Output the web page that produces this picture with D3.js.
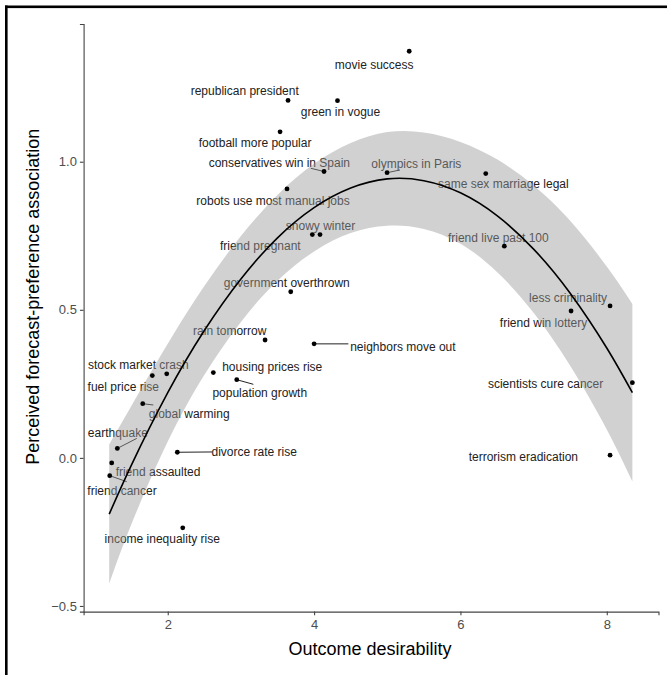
<!DOCTYPE html>
<html>
<head>
<meta charset="utf-8">
<script src="https://cdn.jsdelivr.net/npm/d3@7"></script>
<style>
  html, body { margin: 0; padding: 0; background: #fff; }
  svg { display: block; font-family: "Liberation Sans", Arial, sans-serif; }
</style>
</head>
<body>
<svg id="chart" width="667" height="675"></svg>
<script>
// ---------- data ----------
const events = [
  "movie success", "republican president", "green in vogue", "football more popular",
  "conservatives win in Spain", "olympics in Paris", "same sex marriage legal",
  "robots use most manual jobs", "snowy winter", "friend pregnant", "friend live past 100",
  "government overthrown", "less criminality", "friend win lottery", "rain tomorrow",
  "neighbors move out", "stock market crash", "fuel price rise", "housing prices rise",
  "population growth", "scientists cure cancer", "global warming", "earthquake",
  "divorce rate rise", "terrorism eradication", "friend assaulted", "friend cancer",
  "income inequality rise"
];
const desirability = [
  5.30, 3.644, 4.32, 3.535, 4.136, 4.997, 6.346, 3.63, 4.081, 3.976, 6.60,
  3.681, 8.045, 7.512, 3.33, 4.0, 1.986, 1.789, 2.623, 2.943, 8.35, 1.658,
  1.311, 2.131, 8.045, 1.234, 1.207, 2.205
];
const association = [
  1.373, 1.207, 1.206, 1.101, 0.967, 0.963, 0.96, 0.908, 0.754, 0.754, 0.715,
  0.561, 0.513, 0.496, 0.398, 0.385, 0.284, 0.278, 0.288, 0.264, 0.254, 0.183,
  0.032, 0.019, 0.009, -0.017, -0.060, -0.236
];

// fitted curve and its confidence band
const fitX  = [1.2, 1.5, 2.0, 2.5, 3.0, 3.5, 4.0, 4.5, 5.0, 5.5, 6.0, 6.5, 7.0, 7.5, 8.0, 8.35];
const fitY  = [-0.190, -0.026, 0.220, 0.430, 0.604, 0.743, 0.845, 0.911, 0.942, 0.936, 0.895, 0.818, 0.705, 0.556, 0.371, 0.220];
const bandLo = [-0.425, -0.226, 0.055, 0.280, 0.459, 0.598, 0.697, 0.759, 0.784, 0.773, 0.723, 0.628, 0.490, 0.311, 0.096, -0.080];
const bandHi = [0.045, 0.174, 0.385, 0.580, 0.749, 0.888, 0.993, 1.063, 1.100, 1.099, 1.067, 1.008, 0.920, 0.801, 0.646, 0.520];

const xTicks = [2, 4, 6, 8];
const yTicks = [-0.5, 0.0, 0.5, 1.0];
const xTitle = "Outcome desirability";
const yTitle = "Perceived forecast-preference association";

// ---------- layout (label placement, pixels relative to point) ----------
const labelOffset = [
  [-35, 13], [-43.3, -9.5], [3, 11], [-25, 11], [-44.7, -9.2], [29.3, -8.7], [17.6, 10.6],
  [-14, 11.7], [0.5, -8.5], [-52, 11], [-6, -8.3], [-4, -9], [-42, -8.3], [-27.5, 11.7],
  [-35.3, -9], [88.8, 3.3], [-28.4, -9.4], [-29, 11.6], [58.9, -6], [23, 13], [-86.8, 1.3],
  [46.5, 10.3], [0.5, -16], [76.9, -0.6], [-86.7, 1], [46.3, 8.3], [12.3, 15.3], [-20.5, 11.3]
];
const segmentEnd = {
  4: [-13.3, -3.2], 5: [13, -2.7], 15: [34.3, 0], 19: [16.6, 4.6],
  21: [10.6, 1.3], 22: [19.4, -10], 23: [34.7, -0.3], 26: [17, 6]
};

// ---------- drawing ----------
const svg = d3.select("#chart");

// frame of the screenshot
svg.append("rect").attr("x", 5).attr("y", 5.5).attr("width", 2.6).attr("height", 670).attr("fill", "#000");
svg.append("rect").attr("x", 5).attr("y", 5.5).attr("width", 662).attr("height", 2.6).attr("fill", "#000");

const x = d3.scaleLinear().domain([0.85, 8.707]).range([83.6, 658.5]);
const y = d3.scaleLinear().domain([-0.519, 1.465]).range([611.6, 24]);

const pts = events.map((e, i) => ({ name: e, x: desirability[i], y: association[i], i }));

// labels (drawn first, band goes over them)
const gLab = svg.append("g");
pts.forEach(p => {
  const px = x(p.x), py = y(p.y);
  const [dx, dy] = labelOffset[p.i];
  if (segmentEnd[p.i]) {
    const [sx, sy] = segmentEnd[p.i];
    gLab.append("line")
      .attr("x1", px).attr("y1", py).attr("x2", px + sx).attr("y2", py + sy)
      .attr("stroke", "#222").attr("stroke-width", 1);
  }
  gLab.append("text")
    .attr("x", px + dx).attr("y", py + dy)
    .attr("text-anchor", "middle").attr("dy", "0.36em")
    .attr("font-size", 12).attr("fill", "#222")
    .text(p.name);
});

// confidence band
const band = fitX.map((v, i) => ({ x: v, lo: bandLo[i], hi: bandHi[i], f: fitY[i] }));
svg.append("path")
  .datum(band)
  .attr("d", d3.area().x(d => x(d.x)).y0(d => y(d.lo)).y1(d => y(d.hi)).curve(d3.curveNatural))
  .attr("fill", "#999999").attr("fill-opacity", 0.45);

// fit line
svg.append("path")
  .datum(band)
  .attr("d", d3.line().x(d => x(d.x)).y(d => y(d.f)).curve(d3.curveNatural))
  .attr("fill", "none").attr("stroke", "#000").attr("stroke-width", 1.6);

// points
svg.append("g").selectAll("circle").data(pts).join("circle")
  .attr("cx", d => x(d.x)).attr("cy", d => y(d.y)).attr("r", 2.4).attr("fill", "#000");

// axes
const axX = svg.append("g").attr("transform", `translate(0,${611.6})`)
  .call(d3.axisBottom(x).tickValues(xTicks).tickFormat(d3.format("d")).tickSizeOuter(0).tickSize(3.7).tickPadding(4));
const axY = svg.append("g").attr("transform", `translate(${83.6},0)`)
  .call(d3.axisLeft(y).tickValues(yTicks).tickFormat(d3.format(".1f")).tickSizeOuter(0).tickSize(3.7).tickPadding(3));
[axX, axY].forEach(a => {
  a.select(".domain").attr("stroke", "#444").attr("stroke-width", 1.1);
  a.selectAll(".tick line").attr("stroke", "#444").attr("stroke-width", 1.1);
  a.selectAll(".tick text").attr("fill", "#4d4d4d").attr("font-size", 13)
    .attr("font-family", "Liberation Sans, Arial, sans-serif");
});

// titles
svg.append("text").attr("x", 370).attr("y", 655).attr("text-anchor", "middle")
  .attr("font-size", 18).attr("fill", "#000").text(xTitle);
svg.append("text").attr("transform", "translate(39,296.7) rotate(-90)").attr("text-anchor", "middle")
  .attr("font-size", 18).attr("fill", "#000").text(yTitle);
</script>
</body>
</html>
